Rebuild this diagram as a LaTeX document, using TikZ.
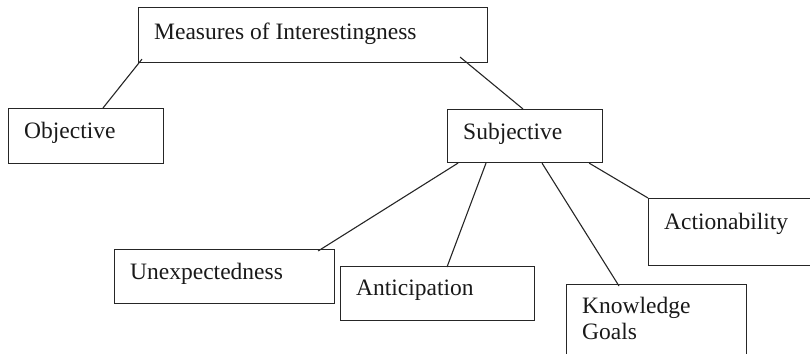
\documentclass[tikz,border=0pt]{standalone}
\usepackage{fontspec}
\setmainfont{Liberation Serif}
\usepackage{tikz}
\tikzset{
  boxnode/.style = {draw=black!85, line width=1.1pt, rectangle, anchor=north west,
    inner sep=0pt},
  boxtext/.style = {anchor=north west, inner sep=0pt, align=left, text=black!90,
    font=\fontsize{23.5}{26}\selectfont, xshift=16pt, yshift=-14pt},
  edge/.style = {draw=black!85, line width=1.1pt}
}

\begin{document}
\begin{tikzpicture}[x=1pt,y=-1pt]
    \useasboundingbox (0,0) rectangle (810,353);
    \clip (0,0) rectangle (810,353);
    \node[boxnode, minimum width=349pt, minimum height=55pt,
      label={[boxtext, yshift=-2pt]north west:Measures of Interestingness}] (measures) at (138,7) {};
    \node[boxnode, minimum width=155pt, minimum height=55pt,
      label={[boxtext]north west:Objective}] (objective) at (8,108) {};
    \node[boxnode, minimum width=155pt, minimum height=53pt,
      label={[boxtext]north west:Subjective}] (subjective) at (447,109) {};
    \node[boxnode, minimum width=220pt, minimum height=54pt,
      label={[boxtext]north west:Unexpectedness}] (unexpected) at (114,249) {};
    \node[boxnode, minimum width=194pt, minimum height=54pt,
      label={[boxtext]north west:Anticipation}] (anticipation) at (340,266) {};
    \node[boxnode, minimum width=180pt, minimum height=90pt,
      label={[boxtext, yshift=1pt]north west:Knowledge\\Goals}] (knowledge) at (566,284) {};
    \node[boxnode, minimum width=180pt, minimum height=67pt,
      label={[boxtext, yshift=-1pt]north west:Actionability}] (actionability) at (648,198) {};

    % connectors
    \path[edge] ([xshift=4pt,yshift=4pt]measures.south west) -- ([xshift=95pt]objective.north west);
    \path[edge] ([xshift=-28pt,yshift=6pt]measures.south east) -- ([xshift=76pt]subjective.north west);
    \path[edge] ([xshift=11pt]subjective.south west) -- ([xshift=-17pt,yshift=-2pt]unexpected.north east);
    \path[edge] ([xshift=39pt]subjective.south west) -- ([xshift=107pt,yshift=-1pt]anticipation.north west);
    \path[edge] ([xshift=95pt]subjective.south west) -- ([xshift=53pt,yshift=-2pt]knowledge.north west);
    \path[edge] ([xshift=-14pt]subjective.south east) -- (actionability.north west);
  \end{tikzpicture}
\end{document}
